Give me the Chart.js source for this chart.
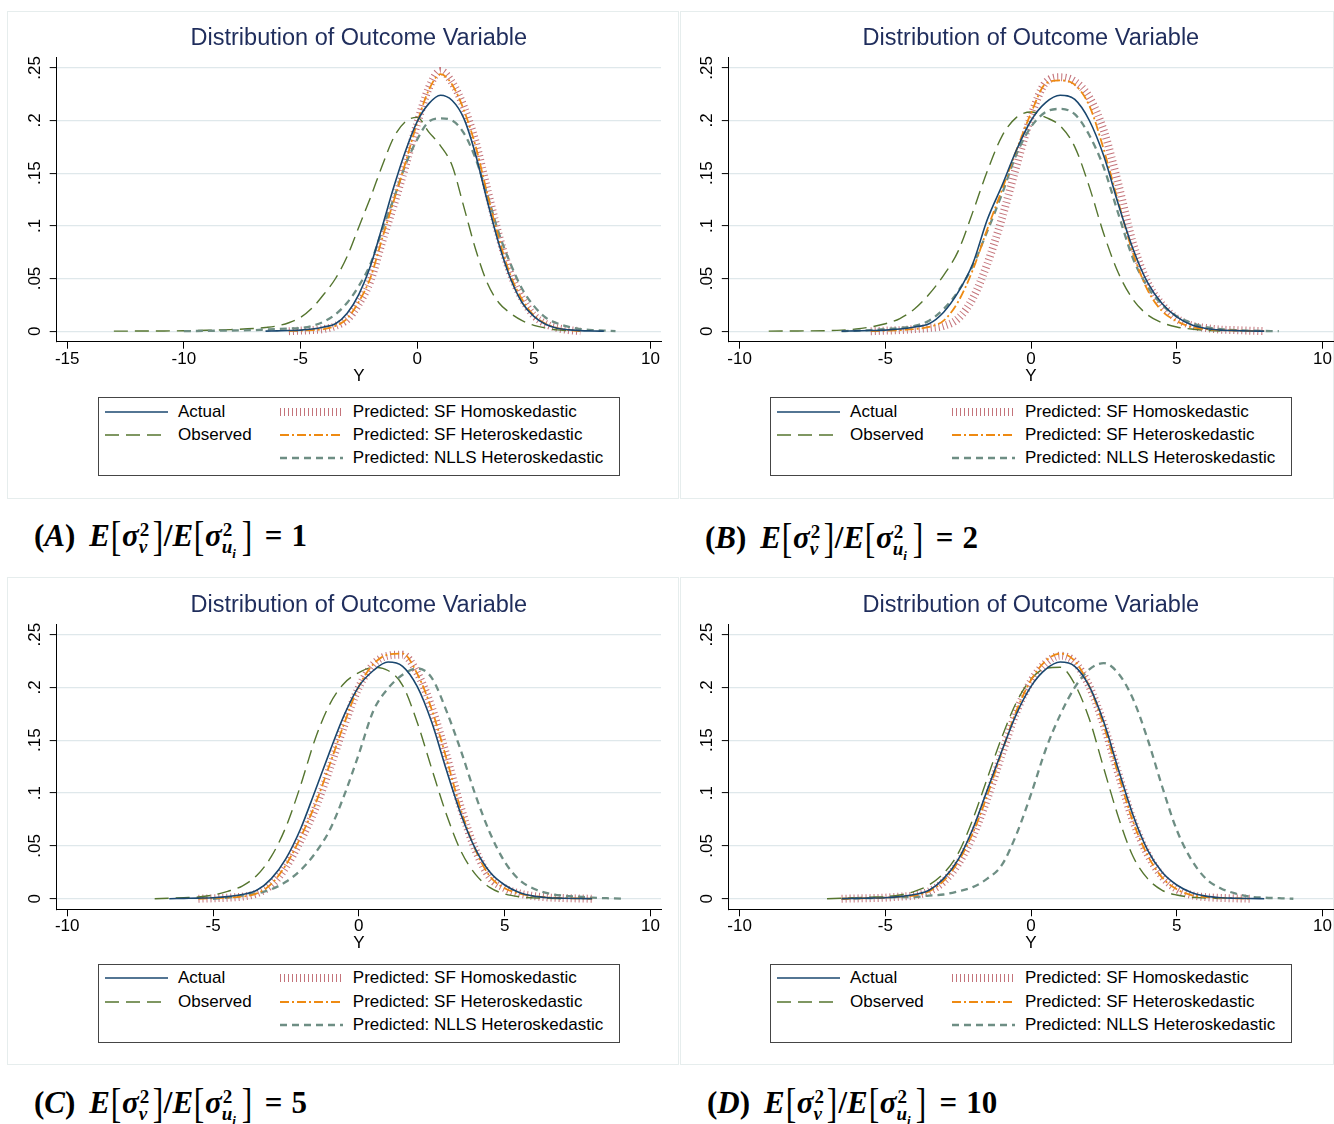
<!DOCTYPE html>
<html><head><meta charset="utf-8">
<script src="https://cdn.jsdelivr.net/npm/chart.js@4.4.1/dist/chart.umd.min.js"></script>
<style>
html,body{margin:0;padding:0;background:#fff;}
body{width:1334px;height:1124px;position:relative;overflow:hidden;font-family:"Liberation Sans",Arial,sans-serif;}
.frame{position:absolute;border:1px solid #e6eded;box-sizing:border-box;background:#fff}
canvas.ch{position:absolute}
.legend{position:absolute;width:522px;height:79px;border:1px solid #454545;background:#fff;box-sizing:border-box}
.lg{position:absolute;font-size:17px;line-height:20px;color:#000;white-space:nowrap}
.lg svg{position:absolute}
.cap{position:absolute;font-family:"Liberation Serif","DejaVu Serif",serif;font-weight:bold;font-size:31px;line-height:40px;height:40px;white-space:nowrap;color:#000}
.cap .i{font-style:italic}
.cap .bk{font-weight:normal;font-size:42px;display:inline-block;transform:scaleX(0.75);vertical-align:-4px;margin:0 -1px}
.cap .ss{display:inline-block;position:relative;height:1px;vertical-align:baseline}
.cap .sup{position:absolute;left:1px;top:-24px;font-size:19px;line-height:18px;font-style:normal}
.cap .sub{position:absolute;left:0px;top:-7px;font-size:19px;line-height:18px;font-style:italic}
.cap .sub2{font-size:13px;vertical-align:-5px;font-style:italic}
.cap .eq{margin:0 9px 0 12px}
.cap .gap{display:inline-block;width:14px}
</style>
</head><body>
<script>
// ---------------- data ----------------
const yTicks = [0, 0.05, 0.1, 0.15, 0.2, 0.25];
const yTickLabels = ['0', '.05', '.1', '.15', '.2', '.25'];
const xTicksA = [-15, -10, -5, 0, 5, 10];
const xTickLabelsA = ['-15', '-10', '-5', '0', '5', '10'];
const xTicksBCD = [-10, -5, 0, 5, 10];
const xTickLabelsBCD = ['-10', '-5', '0', '5', '10'];
const seriesNames = ['Actual', 'Observed', 'Predicted: SF Homoskedastic', 'Predicted: SF Heteroskedastic', 'Predicted: NLLS Heteroskedastic'];
const panelTitle = 'Distribution of Outcome Variable';
const N = null;

// Panel A
const gridA = [-13,-12,-11,-10,-9,-8,-7,-6.5,-6,-5.5,-5,-4.5,-4,-3.5,-3,-2.5,-2,-1.5,-1,-0.5,0,0.5,1,1.5,2,2.5,3,3.5,4,4.5,5,5.5,6,6.5,7,7.5,8,8.5];
const actualA = [N,N,N,N,N,N,N,0,0.0003,0.0006,0.001,0.002,0.004,0.007,0.017,0.035,0.062,0.099,0.137,0.171,0.199,0.216,0.224,0.219,0.202,0.168,0.124,0.083,0.050,0.027,0.014,0.0065,0.0028,0.0012,0.0005,0.0002,0,N];
const observedA = [0,0.0001,0.0002,0.0004,0.0008,0.0015,0.0025,0.0035,0.005,0.008,0.013,0.022,0.035,0.050,0.071,0.099,0.127,0.157,0.184,0.199,0.203,0.189,0.176,0.157,0.118,0.078,0.046,0.027,0.017,0.010,0.0055,0.003,0.0012,0.0003,N,N,N,N];
const homoA = [N,N,N,N,N,N,N,N,N,0,0.0005,0.001,0.002,0.005,0.011,0.026,0.048,0.085,0.120,0.157,0.197,0.231,0.247,0.236,0.213,0.180,0.135,0.091,0.055,0.031,0.015,0.007,0.003,0.001,0,N,N,N];
const heteroA = [N,N,N,N,N,N,N,N,N,0,0.0005,0.001,0.002,0.005,0.012,0.028,0.051,0.088,0.124,0.160,0.198,0.229,0.244,0.234,0.210,0.176,0.131,0.088,0.053,0.030,0.015,0.007,0.003,0.001,0,N,N,N];
const nllsA = [N,N,N,0,0.0003,0.0006,0.001,0.0015,0.002,0.0025,0.003,0.005,0.009,0.016,0.027,0.043,0.064,0.096,0.126,0.158,0.182,0.199,0.202,0.200,0.188,0.164,0.130,0.093,0.064,0.040,0.024,0.013,0.0075,0.004,0.002,0.001,0.0005,0];

// Panel B
const gridB = [-9,-8,-7,-6.5,-6,-5.5,-5,-4.5,-4,-3.5,-3,-2.5,-2,-1.5,-1,-0.5,0,0.5,1,1.5,2,2.5,3,3.5,4,4.5,5,5.5,6,6.5,7,7.5,8,8.5];
const actualB = [N,N,N,0,0.0003,0.0006,0.001,0.002,0.004,0.007,0.018,0.037,0.064,0.106,0.138,0.172,0.200,0.217,0.224,0.220,0.200,0.166,0.120,0.078,0.046,0.026,0.0135,0.006,0.0025,0.001,0.0005,0.0002,0,N];
const observedB = [0,0.0002,0.0005,0.001,0.002,0.004,0.007,0.012,0.021,0.035,0.053,0.076,0.113,0.152,0.185,0.203,0.208,0.203,0.195,0.175,0.137,0.092,0.055,0.030,0.0155,0.008,0.004,0.002,0.0008,0,N,N,N,N];
const homoB = [N,N,N,N,N,0,0.0005,0.001,0.002,0.003,0.005,0.012,0.031,0.064,0.107,0.157,0.204,0.236,0.241,0.237,0.222,0.190,0.139,0.083,0.046,0.025,0.012,0.0055,0.003,0.0015,0.001,0.0005,0,N];
const heteroB = [N,N,N,N,N,0,0.0005,0.001,0.002,0.004,0.010,0.028,0.058,0.097,0.134,0.172,0.207,0.235,0.238,0.234,0.214,0.172,0.122,0.074,0.039,0.019,0.0095,0.004,0.002,0.001,0.0005,0.0002,0,N];
const nllsB = [N,N,N,0,0.0005,0.001,0.002,0.003,0.005,0.010,0.021,0.038,0.062,0.095,0.130,0.168,0.194,0.208,0.211,0.206,0.186,0.155,0.111,0.069,0.042,0.025,0.014,0.008,0.0038,0.002,0.001,0.0005,0.0002,0];

// Panel C
const gridC = [-7,-6.5,-6,-5.5,-5,-4.5,-4,-3.5,-3,-2.5,-2,-1.5,-1,-0.5,0,0.5,1,1.5,2,2.5,3,3.5,4,4.5,5,5.5,6,6.5,7,7.5,8,8.5,9];
const actualC = [N,0,0.0003,0.0006,0.001,0.002,0.004,0.008,0.019,0.038,0.066,0.102,0.139,0.174,0.201,0.216,0.224,0.220,0.201,0.167,0.122,0.080,0.047,0.025,0.013,0.006,0.0025,0.001,0.0005,0.0002,0,N,N];
const observedC = [0,0.0005,0.001,0.0016,0.0035,0.007,0.012,0.022,0.040,0.068,0.107,0.151,0.184,0.204,0.214,0.219,0.216,0.202,0.167,0.123,0.080,0.045,0.023,0.0105,0.0045,0.0018,0.0008,0.0003,0,N,N,N,N];
const homoC = [N,N,N,0,0.0004,0.001,0.002,0.005,0.013,0.030,0.055,0.085,0.123,0.164,0.200,0.222,0.230,0.231,0.214,0.181,0.136,0.086,0.046,0.020,0.010,0.005,0.0025,0.0012,0.0006,0.0003,0,N,N];
const heteroC = [N,N,N,0,0.0005,0.001,0.002,0.005,0.014,0.032,0.058,0.089,0.127,0.166,0.201,0.222,0.231,0.232,0.213,0.179,0.133,0.084,0.046,0.021,0.010,0.005,0.0025,0.0012,0.0006,0.0003,0,N,N];
const nllsC = [N,N,N,N,0,0.001,0.003,0.005,0.009,0.016,0.027,0.043,0.065,0.098,0.137,0.178,0.199,0.212,0.218,0.209,0.178,0.140,0.098,0.062,0.035,0.018,0.0095,0.005,0.003,0.002,0.001,0.0005,0];

// Panel D
const gridD = [-7.5,-7,-6.5,-6,-5.5,-5,-4.5,-4,-3.5,-3,-2.5,-2,-1.5,-1,-0.5,0,0.5,1,1.5,2,2.5,3,3.5,4,4.5,5,5.5,6,6.5,7,7.5,8,8.5,9];
const actualD = [N,N,0,0.0003,0.0006,0.001,0.002,0.004,0.008,0.019,0.037,0.066,0.103,0.140,0.175,0.201,0.217,0.224,0.220,0.201,0.167,0.122,0.079,0.046,0.025,0.013,0.006,0.0025,0.001,0.0005,0.0002,0,N,N];
const observedD = [N,0,0.0005,0.001,0.0015,0.002,0.0035,0.007,0.013,0.024,0.043,0.075,0.114,0.153,0.186,0.208,0.218,0.219,0.203,0.170,0.123,0.077,0.040,0.019,0.008,0.0035,0.0015,0.0007,0.0002,N,N,N,N,N];
const homoD = [N,N,0,0.0003,0.0006,0.001,0.002,0.003,0.007,0.016,0.033,0.059,0.095,0.137,0.177,0.206,0.223,0.230,0.224,0.201,0.164,0.118,0.074,0.042,0.021,0.009,0.0035,0.0015,0.0008,0.0004,0,N,N,N];
const heteroD = [N,N,0,0.0003,0.0006,0.001,0.002,0.003,0.007,0.017,0.035,0.062,0.098,0.139,0.178,0.207,0.225,0.232,0.225,0.201,0.163,0.117,0.073,0.041,0.020,0.009,0.0035,0.0015,0.0008,0.0004,0,N,N,N];
const nllsD = [N,N,0,0.0003,0.0006,0.001,0.0015,0.0016,0.003,0.004,0.007,0.011,0.019,0.032,0.061,0.099,0.141,0.174,0.200,0.217,0.223,0.213,0.189,0.151,0.106,0.065,0.037,0.019,0.010,0.005,0.002,0.001,0.0005,0];

const captionLetters = ['A', 'B', 'C', 'D'];
const captionRatios = ['1', '2', '5', '10'];

// ---------------- styles / layout ----------------
const STYLES = [
  {color:'#1a476f', width:1.6, dash:[], order:1},          // Actual
  {color:'#55752f', width:1.4, dash:[14,7], order:4},       // Observed
  {color:'#c4737a', width:8, dash:[1,3], order:5},          // SF Homo
  {color:'#ee8a12', width:1.8, dash:[9,3,2,3], order:2},    // SF Hetero
  {color:'#6e8e84', width:2.3, dash:[7,5], order:3}         // NLLS
];
const PANELS = [
  {grid:gridA, series:[actualA,observedA,homoA,heteroA,nllsA], xt:xTicksA, xl:xTickLabelsA, xmin:-15.45, xmax:10.45,
   box:{l:7,t:11,w:672,h:488}, yW:49.7, padR:18, tTop:13.9, tBot:4.2, padB:112.3, leg:{l:97.5,t:397}, cap:{l:34,t:516}},
  {grid:gridB, series:[actualB,observedB,homoB,heteroB,nllsB], xt:xTicksBCD, xl:xTickLabelsBCD, xmin:-10.37, xmax:10.36,
   box:{l:680,t:11,w:654,h:488}, yW:48.8, padR:1, tTop:13.9, tBot:4.2, padB:112.3, leg:{l:769.6,t:397}, cap:{l:705,t:518}},
  {grid:gridC, series:[actualC,observedC,homoC,heteroC,nllsC], xt:xTicksBCD, xl:xTickLabelsBCD, xmin:-10.36, xmax:10.36,
   box:{l:7,t:577,w:672,h:488}, yW:49.7, padR:18, tTop:14.9, tBot:3.9, padB:110.7, leg:{l:97.5,t:963.7}, cap:{l:34,t:1083}},
  {grid:gridD, series:[actualD,observedD,homoD,heteroD,nllsD], xt:xTicksBCD, xl:xTickLabelsBCD, xmin:-10.37, xmax:10.36,
   box:{l:680,t:577,w:654,h:488}, yW:48.8, padR:1, tTop:14.9, tBot:3.9, padB:110.7, leg:{l:769.6,t:963.7}, cap:{l:707,t:1083}}
];
const FONT = {family:'"Liberation Sans", Arial, sans-serif', size:17};

function swatchSVG(st){
  const dash = st.dash.length ? `stroke-dasharray="${st.dash.join(' ')}"` : '';
  return `<svg width="63" height="12" viewBox="0 0 63 12"><line x1="0" y1="6" x2="63" y2="6" stroke="${st.color}" stroke-width="${st.width}" ${dash}/></svg>`;
}

PANELS.forEach((P, pi) => {
  const fr = document.createElement('div');
  fr.className = 'frame';
  Object.assign(fr.style, {left:P.box.l+'px', top:P.box.t+'px', width:P.box.w+'px', height:P.box.h+'px'});
  document.body.appendChild(fr);

  const cv = document.createElement('canvas');
  cv.className = 'ch';
  cv.width = P.box.w; cv.height = P.box.h;
  Object.assign(cv.style, {left:P.box.l+'px', top:P.box.t+'px', width:P.box.w+'px', height:P.box.h+'px'});
  document.body.appendChild(cv);

  const datasets = P.series.map((ys, si) => ({
    label: seriesNames[si],
    data: P.grid.map((x, i) => ({x: x, y: ys[i]})),
    borderColor: STYLES[si].color,
    borderWidth: STYLES[si].width,
    borderDash: STYLES[si].dash,
    borderCapStyle: 'butt',
    order: STYLES[si].order,
    fill: false,
    pointRadius: 0,
    spanGaps: false,
    cubicInterpolationMode: 'monotone'
  }));

  new Chart(cv, {
    type: 'line',
    data: {datasets},
    options: {
      responsive: false, animation: false, devicePixelRatio: 1,
      layout: {padding: {left:0, right:P.padR, top:0, bottom:P.padB}},
      plugins: {
        legend: {display:false}, tooltip: {enabled:false},
        title: {display:true, text:panelTitle, fullSize:false, color:'#1f2d5c',
                font:{family:FONT.family, size:23.5, weight:'normal'}, padding:{top:P.tTop, bottom:P.tBot}}
      },
      scales: {
        x: {
          type:'linear', min:P.xmin, max:P.xmax,
          afterBuildTicks: s => { s.ticks = P.xt.map(v => ({value:v})); },
          afterFit: s => { s.height = 45; },
          ticks: {callback:(v, i) => P.xl[i], font:FONT, color:'#000', padding:0, autoSkip:false, maxRotation:0, minRotation:0},
          grid: {drawOnChartArea:false, drawTicks:true, tickLength:7, tickColor:'#000', tickWidth:1},
          border: {display:true, color:'#000', width:1},
          title: {display:true, text:'Y', font:FONT, color:'#000', padding:{top:0, bottom:0.5}}
        },
        y: {
          type:'linear', min:-0.01, max:0.26,
          afterBuildTicks: s => { s.ticks = yTicks.map(v => ({value:v})); },
          afterFit: s => { s.width = P.yW; },
          ticks: {callback:(v, i) => yTickLabels[i], font:FONT, color:'#000', minRotation:90, maxRotation:90, crossAlign:'center', padding:2.8, autoSkip:false},
          grid: {color:'#dfe8eb', lineWidth:1.2, drawTicks:true, tickLength:7, tickColor:'#000', tickWidth:1},
          border: {display:true, color:'#000', width:1}
        }
      }
    }
  });

  // legend (HTML)
  const lg = document.createElement('div');
  lg.className = 'legend';
  Object.assign(lg.style, {left:P.leg.l+'px', top:P.leg.t+'px'});
  const cells = [
    {si:0, col:0, row:0}, {si:1, col:0, row:1},
    {si:2, col:1, row:0}, {si:3, col:1, row:1}, {si:4, col:1, row:2}
  ];
  const rowY = [14.7, 38, 61.3];
  const swX = [6.3, 181.5], txX = [79.5, 254.3];
  cells.forEach(c => {
    const sw = document.createElement('div');
    sw.className = 'lg';
    sw.style.left = swX[c.col] + 'px';
    sw.style.top = (rowY[c.row] - 6 - 1) + 'px';
    sw.innerHTML = swatchSVG(STYLES[c.si]);
    lg.appendChild(sw);
    const tx = document.createElement('div');
    tx.className = 'lg';
    tx.style.left = txX[c.col] + 'px';
    tx.style.top = (rowY[c.row] - 10 - 1) + 'px';
    tx.textContent = seriesNames[c.si];
    lg.appendChild(tx);
  });
  document.body.appendChild(lg);

  // caption
  const cap = document.createElement('div');
  cap.className = 'cap';
  Object.assign(cap.style, {left:P.cap.l+'px', top:P.cap.t+'px'});
  cap.innerHTML = `(<span class="i">${captionLetters[pi]}</span>)<span class="gap"></span><span class="i">E</span><span class="bk">[</span><span class="i">σ</span><span class="ss" style="width:13px"><span class="sup">2</span><span class="sub">v</span></span><span class="bk">]</span>/<span class="i">E</span><span class="bk">[</span><span class="i">σ</span><span class="ss" style="width:19px"><span class="sup">2</span><span class="sub">u<span class="sub2">i</span></span></span><span class="bk">]</span><span class="eq">=</span>${captionRatios[pi]}`;
  document.body.appendChild(cap);
});
</script>
</body></html>
